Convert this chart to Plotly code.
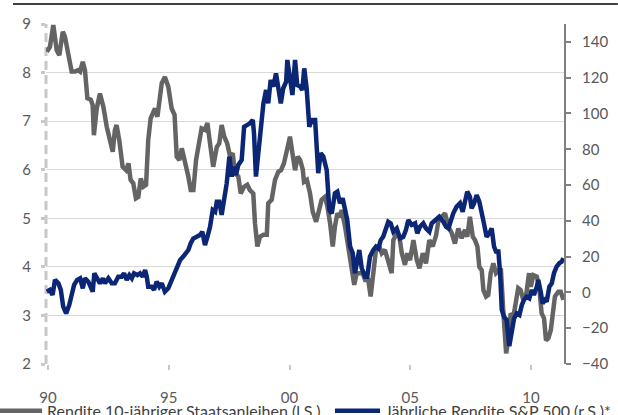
import plotly.graph_objects as go

# 10-year Treasury yield (left axis, %)
bond_x = [1989.95, 1990.08, 1990.22, 1990.36, 1990.47, 1990.61, 1990.70, 1990.84, 1990.98, 1991.12,
          1991.25, 1991.33, 1991.44, 1991.53, 1991.63, 1991.77, 1991.85, 1991.90, 1992.02, 1992.15,
          1992.29, 1992.43, 1992.60, 1992.68, 1992.77, 1992.84, 1992.95, 1993.09, 1993.23, 1993.33,
          1993.42, 1993.53, 1993.64, 1993.74, 1993.84, 1993.95, 1994.06, 1994.15, 1994.25, 1994.36,
          1994.43, 1994.53, 1994.61, 1994.71, 1994.84, 1994.98, 1995.12, 1995.24, 1995.33, 1995.44,
          1995.54, 1995.67, 1995.81, 1995.91, 1996.02, 1996.13, 1996.27, 1996.36, 1996.50, 1996.60,
          1996.71, 1996.84, 1996.99, 1997.09, 1997.19, 1997.30, 1997.42, 1997.54, 1997.65, 1997.74,
          1997.88, 1997.98, 1998.12, 1998.25, 1998.36, 1998.50, 1998.57, 1998.67, 1998.78, 1998.92,
          1999.06, 1999.12, 1999.26, 1999.40, 1999.54, 1999.65, 1999.77, 1999.88, 2000.02, 2000.12,
          2000.23, 2000.34, 2000.44, 2000.55, 2000.60, 2000.72, 2000.85, 2000.96, 2001.10, 2001.19,
          2001.33, 2001.47, 2001.57, 2001.68, 2001.79, 2001.88, 2001.98, 2002.09, 2002.16, 2002.30,
          2002.43, 2002.58, 2002.68, 2002.78, 2002.89, 2003.03, 2003.13, 2003.26, 2003.36, 2003.47,
          2003.58, 2003.72, 2003.82, 2003.95, 2004.09, 2004.23, 2004.30, 2004.44, 2004.55, 2004.65,
          2004.78, 2004.88, 2004.99, 2005.13, 2005.27, 2005.38, 2005.52, 2005.65, 2005.79, 2005.93,
          2006.07, 2006.17, 2006.30, 2006.44, 2006.58, 2006.72, 2006.85, 2006.99, 2007.13, 2007.27,
          2007.36, 2007.47, 2007.59, 2007.68, 2007.78, 2007.86, 2007.96, 2008.03, 2008.14, 2008.23,
          2008.33, 2008.44, 2008.55, 2008.65, 2008.75, 2008.85, 2008.97, 2009.06, 2009.16, 2009.27,
          2009.38, 2009.47, 2009.57, 2009.68, 2009.79, 2009.92, 2009.99, 2010.10, 2010.24, 2010.34,
          2010.44, 2010.54, 2010.62, 2010.72, 2010.82, 2010.90, 2010.99, 2011.13, 2011.23, 2011.34]
bond_y = [8.43, 8.53, 8.98, 8.46, 8.36, 8.84, 8.74, 8.33, 8.02, 8.02,
          8.05, 8.02, 8.22, 8.05, 7.47, 7.44, 7.33, 6.71, 7.27, 7.57,
          7.30, 6.89, 6.54, 6.37, 6.82, 6.92, 6.61, 6.06, 5.99, 6.13,
          5.79, 5.72, 5.41, 5.44, 5.82, 5.65, 5.69, 6.61, 7.06, 7.16,
          7.26, 7.09, 7.44, 7.78, 7.91, 7.71, 7.26, 7.13, 6.27, 6.20,
          6.44, 6.20, 5.86, 5.58, 5.58, 6.20, 6.68, 6.85, 6.82, 6.96,
          6.54, 6.06, 6.47, 6.54, 6.92, 6.68, 6.54, 6.27, 6.34, 5.93,
          5.86, 5.51, 5.65, 5.69, 5.58, 5.51, 4.90, 4.42, 4.62, 4.66,
          4.66, 5.31, 5.38, 5.79, 5.96, 5.99, 6.13, 6.37, 6.68, 6.34,
          5.99, 6.27, 6.20, 6.00, 5.75, 5.79, 5.51, 5.14, 4.93, 5.10,
          5.38, 5.44, 5.24, 4.90, 4.42, 4.83, 5.10, 5.03, 5.17, 4.83,
          4.42, 4.00, 3.63, 3.87, 3.87, 3.87, 3.73, 3.73, 3.39, 3.87,
          4.35, 4.42, 4.28, 4.35, 4.07, 3.87, 4.55, 4.69, 4.62, 4.28,
          4.04, 4.28, 4.14, 4.55, 4.14, 3.97, 4.28, 4.07, 4.55, 4.42,
          4.65, 4.96, 5.03, 5.10, 4.83, 4.69, 4.48, 4.79, 4.59, 4.76,
          4.62, 5.03, 4.62, 4.55, 4.42, 4.00, 3.93, 3.52, 3.39, 3.42,
          3.87, 4.07, 3.87, 3.93, 3.97, 3.11, 2.22, 2.49, 3.04, 2.97,
          3.32, 3.56, 3.52, 3.32, 3.39, 3.87, 3.59, 3.83, 3.80, 3.59,
          3.04, 2.94, 2.49, 2.53, 2.70, 3.04, 3.39, 3.49, 3.49, 3.32]

# Annual S&P 500 return (right axis, %)
spx_x = [1989.95, 1990.08, 1990.19, 1990.29, 1990.43, 1990.53, 1990.63, 1990.75, 1990.88, 1990.98,
         1991.08, 1991.21, 1991.33, 1991.44, 1991.53, 1991.67, 1991.77, 1991.85, 1991.92, 1992.04,
         1992.15, 1992.27, 1992.36, 1992.50, 1992.64, 1992.77, 1992.91, 1993.05, 1993.15, 1993.26,
         1993.37, 1993.47, 1993.56, 1993.70, 1993.81, 1993.92, 1994.02, 1994.09, 1994.15, 1994.29,
         1994.39, 1994.50, 1994.61, 1994.71, 1994.84, 1994.98, 1995.12, 1995.26, 1995.33, 1995.47,
         1995.60, 1995.71, 1995.81, 1995.91, 1996.02, 1996.16, 1996.29, 1996.39, 1996.50, 1996.60,
         1996.71, 1996.82, 1996.92, 1996.99, 1997.09, 1997.19, 1997.29, 1997.40, 1997.51, 1997.61,
         1997.70, 1997.78, 1997.88, 1998.02, 1998.12, 1998.23, 1998.36, 1998.48, 1998.53, 1998.61,
         1998.71, 1998.81, 1998.92, 1999.03, 1999.12, 1999.22, 1999.33, 1999.44, 1999.54, 1999.64,
         1999.74, 1999.86, 1999.91, 2000.02, 2000.12, 2000.23, 2000.32, 2000.44, 2000.53, 2000.61,
         2000.71, 2000.82, 2000.92, 2001.06, 2001.19, 2001.29, 2001.40, 2001.54, 2001.65, 2001.75,
         2001.88, 2001.98, 2002.09, 2002.20, 2002.30, 2002.39, 2002.51, 2002.62, 2002.71, 2002.81,
         2002.89, 2002.99, 2003.13, 2003.22, 2003.33, 2003.47, 2003.58, 2003.68, 2003.78, 2003.88,
         2004.00, 2004.09, 2004.19, 2004.30, 2004.44, 2004.58, 2004.71, 2004.82, 2004.92, 2005.06,
         2005.20, 2005.29, 2005.40, 2005.54, 2005.65, 2005.79, 2005.89, 2006.03, 2006.20, 2006.37,
         2006.48, 2006.58, 2006.68, 2006.78, 2006.92, 2007.06, 2007.17, 2007.27, 2007.36, 2007.47,
         2007.54, 2007.64, 2007.75, 2007.86, 2007.96, 2008.05, 2008.16, 2008.27, 2008.37, 2008.47,
         2008.55, 2008.65, 2008.72, 2008.79, 2008.88, 2008.99, 2009.10, 2009.20, 2009.30, 2009.41,
         2009.52, 2009.62, 2009.71, 2009.82, 2009.93, 2010.03, 2010.12, 2010.24, 2010.30, 2010.40,
         2010.48, 2010.58, 2010.65, 2010.76, 2010.86, 2010.95, 2011.06, 2011.17, 2011.27, 2011.34]
spx_y = [0.4, 1.4, -1.4, 7.0, 5.1, 1.4, -8.0, -11.7, -7.0, -2.4,
         4.2, 7.0, 7.9, 2.3, 7.9, 6.0, 3.2, 0.4, 10.7, 7.9,
         5.1, 7.9, 5.1, 7.9, 5.1, 5.1, 8.8, 8.8, 10.7, 7.0,
         9.7, 7.9, 10.7, 9.7, 10.7, 8.8, 12.5, 8.8, 3.2, 3.2,
         1.4, 6.0, 3.2, 5.1, 0.4, 2.3, 7.0, 11.6, 14.4, 18.1,
         20.0, 21.9, 23.7, 27.5, 30.2, 31.1, 32.1, 33.9, 26.5, 31.1,
         36.7, 46.1, 45.1, 50.7, 50.7, 43.3, 51.6, 61.0, 75.9, 64.7,
         70.3, 65.6, 71.2, 74.0, 92.6, 93.6, 94.5, 96.4, 88.9, 64.7,
         79.6, 94.5, 105.7, 113.1, 105.7, 118.7, 115.0, 122.4, 113.1, 105.7,
         114.1, 117.8, 129.9, 116.9, 110.3, 129.9, 115.9, 115.0, 113.1, 125.2,
         114.0, 92.6, 96.4, 96.4, 66.6, 77.8, 75.9, 68.4, 46.1, 44.2,
         55.4, 56.3, 49.8, 52.6, 44.2, 40.5, 25.6, 21.9, 10.7, 18.1,
         23.7, 13.5, 8.8, 8.8, 20.0, 23.7, 25.6, 24.6, 29.3, 31.1,
         36.7, 39.5, 38.6, 33.9, 35.8, 30.2, 31.1, 34.9, 40.5, 37.7,
         38.6, 33.0, 36.7, 38.6, 35.8, 33.9, 38.6, 40.5, 42.3, 39.5,
         36.7, 35.8, 40.5, 44.2, 47.9, 49.8, 45.1, 50.7, 56.3, 53.5,
         47.0, 49.8, 54.4, 50.7, 45.1, 38.6, 31.1, 33.0, 35.8, 25.6,
         22.8, 22.8, 10.7, -9.8, -13.6, -15.4, -30.0, -22.8, -14.5, -11.7,
         -12.6, -7.0, -4.2, -2.4, -3.3, 1.4, -1.4, 3.2, 7.0, 0.4,
         -6.1, -4.2, -5.2, 3.2, 5.1, 10.7, 14.4, 16.3, 17.2, 19.1]

x_tickvals = [1990, 1995, 2000, 2005, 2010]
x_ticktext = ["90", "95", "00", "05", "10"]
left_ticks = [2, 3, 4, 5, 6, 7, 8, 9]
right_ticks = [-40, -20, 0, 20, 40, 60, 80, 100, 120, 140]

FONT = "Lato, 'Open Sans', sans-serif"
TICK_COLOR = "#595959"
LEG_FONT = dict(size=16, color="#404040")

fig = go.Figure()
fig.add_trace(go.Scatter(
    x=bond_x, y=bond_y, mode="lines", name="Rendite 10-jähriger Staatsanleihen (l.S.)",
    line=dict(color="#646464", width=4.5), yaxis="y", legend="legend"))
fig.add_trace(go.Scatter(
    x=spx_x, y=spx_y, mode="lines", name="Jährliche Rendite S&P 500 (r.S.)*",
    line=dict(color="#0c2676", width=4.5), yaxis="y2", legend="legend2"))

fig.update_layout(
    width=618, height=415, autosize=False,
    margin=dict(l=46, r=54, t=24, b=51, autoexpand=False),
    paper_bgcolor="white", plot_bgcolor="white",
    font=dict(family=FONT, size=15, color=TICK_COLOR),
    showlegend=True,
    legend=dict(orientation="h", x=-0.1042, xanchor="left", y=-0.088, yanchor="top",
                font=LEG_FONT, bgcolor="rgba(0,0,0,0)", itemwidth=45),
    legend2=dict(orientation="h", x=0.5483, xanchor="left", y=-0.088, yanchor="top",
                 font=LEG_FONT, bgcolor="rgba(0,0,0,0)", itemwidth=45),
    xaxis=dict(range=[1989.917, 2011.366], tickvals=x_tickvals, ticktext=x_ticktext,
               showgrid=False, zeroline=False, showline=False,
               ticks="outside", ticklen=20, tickwidth=1.5, tickcolor="rgba(0,0,0,0)",
               minor=dict(tickvals=[v + 0.001 for v in x_tickvals], ticks="outside", ticklen=5,
                          tickwidth=1.5, tickcolor="#c8c8c8", showgrid=False),
               tickfont=dict(size=15, color=TICK_COLOR)),
    yaxis=dict(range=[2, 9], tickvals=left_ticks, showgrid=True, gridcolor="#d9d9d9", gridwidth=1,
               zeroline=False, showline=False, ticks="outside", ticklen=4, tickwidth=3,
               tickcolor="#c8c8c8", ticklabelstandoff=7, tickfont=dict(size=15, color=TICK_COLOR)),
    yaxis2=dict(range=[-40, 150], tickvals=right_ticks, overlaying="y", side="right",
                showgrid=False, zeroline=False, showline=True, linecolor="#808080", linewidth=2,
                ticks="outside", ticklen=5, tickwidth=1.5, tickcolor="#808080",
                ticklabelstandoff=8, tickfont=dict(size=15, color=TICK_COLOR)),
    shapes=[
        dict(type="line", xref="paper", yref="paper", x0=0, x1=0, y0=0, y1=1,
             line=dict(color="#c8c8c8", width=3, dash="9px,5px"), layer="below"),
        dict(type="line", xref="paper", yref="paper", x0=-0.0637, x1=1.104, y0=1.0588, y1=1.0588,
             line=dict(color="black", width=1.5)),
    ],
)

fig.write_html("out.html", config={"displayModeBar": False},
               post_script="document.body.style.margin='0';")
